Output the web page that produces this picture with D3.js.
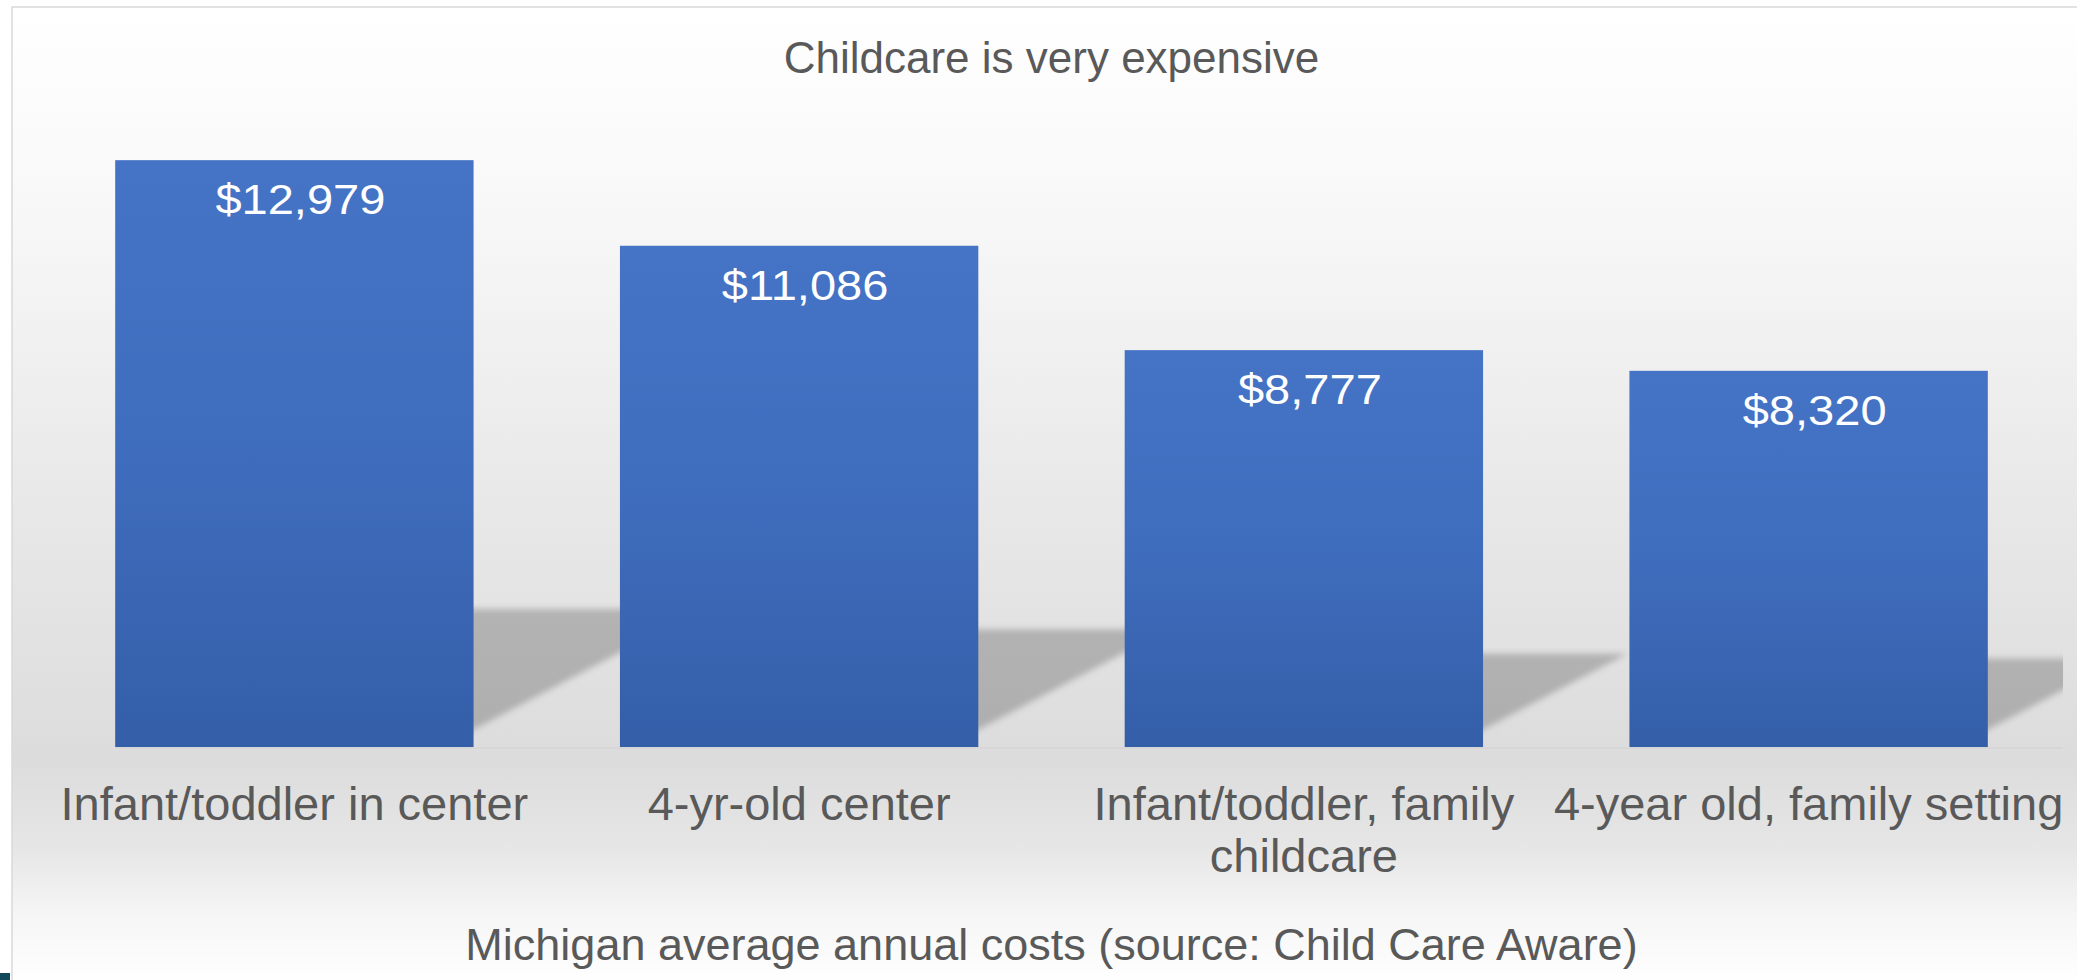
<!DOCTYPE html>
<html>
<head>
<meta charset="utf-8">
<script src="https://cdn.jsdelivr.net/npm/d3@7"></script>
<style>
  body { margin: 0; background: #fff; overflow: hidden; }
  text { font-family: "Liberation Sans", Arial, sans-serif; }
</style>
</head>
<body>
<div id="chart"></div>
<script>
// data
const categories = ["Infant/toddler in center", "4-yr-old center", "Infant/toddler, family childcare", "4-year old, family setting"];
const costs = [12979, 11086, 8777, 8320];
const yMax = 14000;
const chartTitle = "Childcare is very expensive";
const axisTitle = "Michigan average annual costs (source: Child Care Aware)";

const width = 2077;
const height = 980;
const plot = { left: 42, right: 2061, top: 114, bottom: 747 };

const svg = d3.select("#chart")
  .append("svg")
  .attr("width", width)
  .attr("height", height);

const defs = svg.append("defs");

// chart area background: white -> grey at the floor -> white
const bg = defs.append("linearGradient")
  .attr("id", "bg")
  .attr("gradientUnits", "userSpaceOnUse")
  .attr("x1", 0).attr("x2", 0)
  .attr("y1", 7).attr("y2", 985);
[[0, "#ffffff"], [0.2, "#f8f8f8"], [0.45, "#ebebeb"], [0.77, "#dcdcdc"], [0.86, "#e6e6e6"], [0.93, "#f6f6f6"], [1, "#ffffff"]]
  .forEach(s => bg.append("stop").attr("offset", s[0]).attr("stop-color", s[1]));

const barFill = defs.append("linearGradient")
  .attr("id", "barFill")
  .attr("x1", 0).attr("x2", 0)
  .attr("y1", 0).attr("y2", 1);
barFill.append("stop").attr("offset", 0).attr("stop-color", "#4573c5");
barFill.append("stop").attr("offset", 0.45).attr("stop-color", "#406ebf");
barFill.append("stop").attr("offset", 1).attr("stop-color", "#345ea8");

defs.append("filter")
  .attr("id", "blur")
  .attr("x", "-10%").attr("y", "-20%")
  .attr("width", "120%").attr("height", "140%")
  .append("feGaussianBlur")
  .attr("stdDeviation", 3);

defs.append("clipPath")
  .attr("id", "plotClip")
  .append("rect")
  .attr("x", plot.left)
  .attr("y", 0)
  .attr("width", 2063 - plot.left)
  .attr("height", plot.bottom);

// frame (runs off the right and bottom of the window)
svg.append("rect")
  .attr("x", 12)
  .attr("y", 7)
  .attr("width", width + 20)
  .attr("height", height + 20)
  .attr("fill", "url(#bg)")
  .attr("stroke", "#d9d9d9")
  .attr("stroke-width", 1.5);

svg.append("rect")
  .attr("x", 0)
  .attr("y", 973)
  .attr("width", 10)
  .attr("height", 7)
  .attr("fill", "#12495a");

const xScale = d3.scaleBand()
  .domain(categories)
  .range([plot.left, plot.right])
  .paddingInner(0.29)
  .paddingOuter(0.145);

const yScale = d3.scaleLinear()
  .domain([0, yMax])
  .range([plot.bottom, plot.top]);

const data = categories.map((c, i) => ({ cat: c, value: costs[i] }));

// perspective shadows behind the bars
const shadowPath = (d) => {
  const x0 = xScale(d.cat) + 10;
  const x1 = xScale(d.cat) + xScale.bandwidth() - 33;
  const b = yScale(0);
  const sh = (b - yScale(d.value)) * 0.235;
  const s = sh * 1.9;
  return `M${x0},${b}L${x1},${b}L${x1 + s},${b - sh}L${x0 + s},${b - sh}Z`;
};

svg.append("g")
  .attr("clip-path", "url(#plotClip)")
  .append("g")
  .attr("filter", "url(#blur)")
  .selectAll("path")
  .data(data)
  .join("path")
  .attr("d", shadowPath)
  .attr("fill", "#000")
  .attr("fill-opacity", 0.21);

// faint floor line
svg.append("line")
  .attr("x1", xScale(categories[0]))
  .attr("x2", 2063)
  .attr("y1", yScale(0) + 1)
  .attr("y2", yScale(0) + 1)
  .attr("stroke", "#d5d5d5")
  .attr("stroke-width", 1.5);

svg.append("g")
  .selectAll("rect")
  .data(data)
  .join("rect")
  .attr("x", d => xScale(d.cat))
  .attr("y", d => yScale(d.value))
  .attr("width", xScale.bandwidth())
  .attr("height", d => yScale(0) - yScale(d.value))
  .attr("fill", "url(#barFill)");

// value labels inside the bar tops
const fmt = d3.format("$,");
svg.append("g")
  .selectAll("text")
  .data(data)
  .join("text")
  .attr("transform", d => `translate(${xScale(d.cat) + xScale.bandwidth() / 2 + 6},${yScale(d.value) + 54}) scale(1.12,1)`)
  .attr("text-anchor", "middle")
  .attr("font-size", 42)
  .attr("fill", "#ffffff")
  .text(d => fmt(d.value));

// category labels, wrapped to the band step
const catLabels = svg.append("g")
  .selectAll("text")
  .data(data)
  .join("text")
  .attr("x", d => xScale(d.cat) + xScale.bandwidth() / 2)
  .attr("y", yScale(0) + 73)
  .attr("text-anchor", "middle")
  .attr("font-size", 47)
  .attr("fill", "#595959");

catLabels.each(function (d) {
  const text = d3.select(this);
  const words = d.cat.split(" ");
  const maxW = xScale.step() * 1.02;
  let line = [];
  let tspan = text.append("tspan").attr("x", text.attr("x")).attr("dy", 0);
  words.forEach(w => {
    line.push(w);
    tspan.text(line.join(" "));
    if (tspan.node().getComputedTextLength() > maxW && line.length > 1) {
      line.pop();
      tspan.text(line.join(" "));
      line = [w];
      tspan = text.append("tspan").attr("x", text.attr("x")).attr("dy", 52).text(w);
    }
  });
});

svg.append("text")
  .attr("x", (plot.left + plot.right) / 2)
  .attr("y", 73)
  .attr("text-anchor", "middle")
  .attr("font-size", 44)
  .attr("fill", "#595959")
  .text(chartTitle);

svg.append("text")
  .attr("x", (plot.left + plot.right) / 2)
  .attr("y", 960)
  .attr("text-anchor", "middle")
  .attr("font-size", 45)
  .attr("fill", "#595959")
  .text(axisTitle);
</script>
</body>
</html>
